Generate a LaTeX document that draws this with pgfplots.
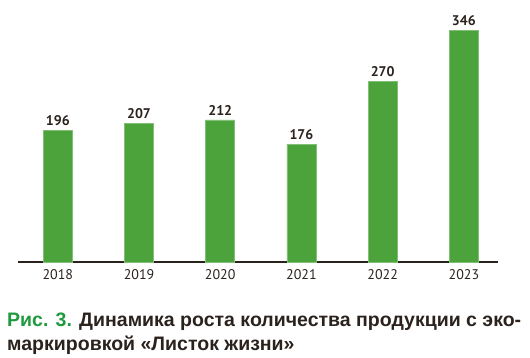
\documentclass[border=0pt]{standalone}
\usepackage{pgfplots}
\pgfplotsset{compat=1.18}
\usepackage{fontspec}
\setmainfont{PT Sans}
\newfontfamily\capfont{Liberation Sans}
\definecolor{bargreen}{HTML}{4CA33B}
\definecolor{txt}{HTML}{2B221D}
\definecolor{capgreen}{HTML}{1F9A3E}
\newsavebox\capbox
\newlength\capw
\begin{document}%
\sbox\capbox{\capfont\bfseries\fontsize{19.5}{19.5}\selectfont Рис. 3. Динамика роста количества продукции с эко-}%
\setlength\capw{\wd\capbox}%
\pgfmathsetmacro\capsx{514/\capw}%
\begin{tikzpicture}[x=1pt,y=1pt]
\path (0,0) rectangle (530,358);
\begin{axis}[
  at={(18pt,96pt)}, anchor=south west,
  scale only axis, width=480pt, height=262pt,
  xmin=-0.49, xmax=5.42, ymin=0, ymax=391,
  axis x line*=bottom, axis y line=none,
  x axis line style={-, line width=1.3pt, color=txt},
  xtick={0,1,2,3,4,5},
  xticklabels={2018,2019,2020,2021,2022,2023},
  major tick length=0pt,
  ytick=\empty,
  /pgf/number format/assume math mode=true,
  xticklabel style={font=\fontsize{14}{14}\selectfont, color=txt, yshift=-4pt},
  clip=false,
  ybar, bar width=29pt,
  nodes near coords,
  every node near coord/.append style={font=\bfseries\fontsize{14}{14}\selectfont, color=txt, yshift=1pt},
]
\addplot[fill=bargreen, draw=bargreen!70!white, line width=0.7pt] coordinates {(0,196) (1,207) (2,212) (3,176) (4,270) (5,346)};
\end{axis}
\node[anchor=base west, inner sep=0pt, text=txt] at (7,31) {\scalebox{\capsx}[1]{\capfont\bfseries\fontsize{19.5}{19.5}\selectfont {\color{capgreen}Рис. 3.} Динамика роста количества продукции с эко-}};
\node[anchor=base west, inner sep=0pt, text=txt] at (7,7.5) {\scalebox{\capsx}[1]{\capfont\bfseries\fontsize{19.5}{19.5}\selectfont маркировкой «Листок жизни»}};
\end{tikzpicture}%
\end{document}
